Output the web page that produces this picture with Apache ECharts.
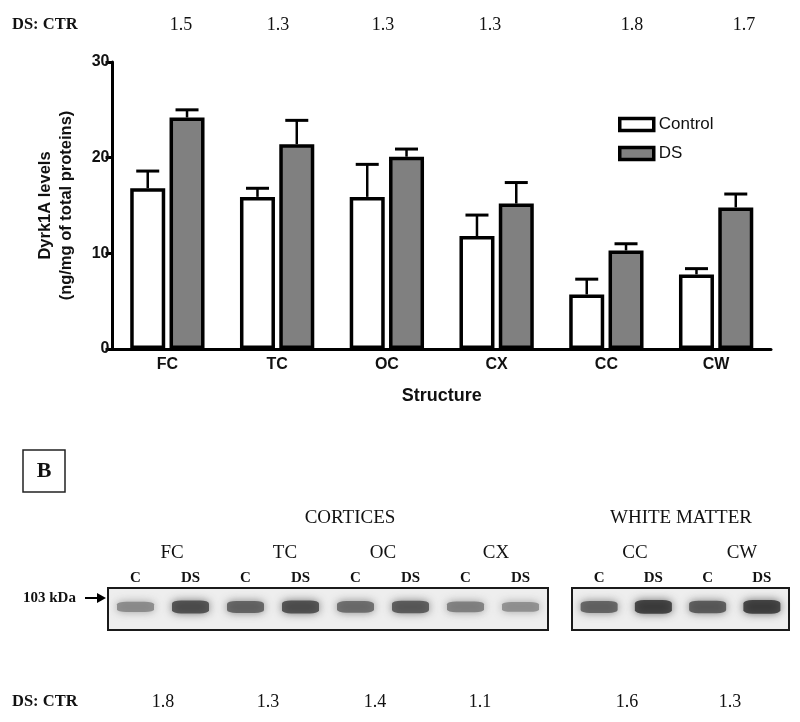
<!DOCTYPE html>
<html><head><meta charset="utf-8">
<script src="https://cdn.jsdelivr.net/npm/echarts@6/dist/echarts.min.js"></script>
<style>html,body{margin:0;padding:0;background:#fff}#c{width:800px;height:722px}</style>
</head><body><div id="c"></div>
<script>
// ---- data ----
const structures = ['FC', 'TC', 'OC', 'CX', 'CC', 'CW'];
const controlMean = [16.8, 15.9, 15.9, 11.8, 5.7, 7.8];
const controlSem  = [1.8, 0.9, 3.4, 2.2, 1.6, 0.6];
const dsMean      = [24.2, 21.4, 20.1, 15.2, 10.3, 14.8];
const dsSem       = [0.8, 2.5, 0.8, 2.2, 0.7, 1.4];
const yTicks = [0, 10, 20, 30];
const elisaRatio = ['1.5', '1.3', '1.3', '1.3', '1.8', '1.7'];
const blotRatio  = ['1.8', '1.3', '1.4', '1.1', '1.6', '1.3'];
const corticesLanes   = ['C', 'DS', 'C', 'DS', 'C', 'DS', 'C', 'DS'];
const corticesDensity = [0.45, 0.85, 0.72, 0.85, 0.66, 0.78, 0.52, 0.42];
const whiteLanes   = ['C', 'DS', 'C', 'DS'];
const whiteDensity = [0.72, 0.95, 0.78, 0.95];
const groupNames = ['CORTICES', 'WHITE MATTER'];

// ---- layout / style ----
const SANS = 'Liberation Sans, Arial, sans-serif';
const SERIF = 'Liberation Serif, Times New Roman, serif';
const BAR_W = 35, BAR_GAP_PX = 4.3;
const OFF = (BAR_W + BAR_GAP_PX) / 2;

function errSeries(means, sems, offset) {
  return {
    type: 'custom', xAxisIndex: 0, yAxisIndex: 0, z: 1, silent: true,
    data: means.map((m, i) => [i, m, m + sems[i]]),
    renderItem(params, api) {
      const b = api.coord([api.value(0), api.value(1)]);
      const t = api.coord([api.value(0), api.value(2)]);
      const cx = b[0] + offset;
      return { type: 'group', children: [
        { type: 'line', shape: { x1: cx, y1: b[1], x2: cx, y2: t[1] }, style: { stroke: '#000', lineWidth: 2.5 } },
        { type: 'line', shape: { x1: cx - 11.5, y1: t[1], x2: cx + 11.5, y2: t[1] }, style: { stroke: '#000', lineWidth: 3 } }
      ]};
    }
  };
}

function bandGray(d) { const g = Math.round(200 - d * 165); return 'rgb(' + g + ',' + g + ',' + g + ')'; }
function bandData(dens) {
  return dens.map((d, i) => ({
    value: [i, 0.55, d],
    itemStyle: { color: bandGray(d), shadowBlur: 8, shadowColor: bandGray(d * 0.8) }
  }));
}
function bandSeries(dens, idx) {
  return {
    type: 'scatter', xAxisIndex: idx, yAxisIndex: idx, silent: true,
    symbol: 'roundRect',
    symbolSize: v => [37, 7 + v[2] * 7],
    data: bandData(dens)
  };
}

function txt(t, x, y, size, weight, family, align) {
  return { type: 'text', x: x, y: y, silent: true,
    style: { text: t, fontSize: size, fontWeight: weight || 'normal', fontFamily: family || SERIF,
      fill: '#111', align: align || 'center', verticalAlign: 'middle' } };
}

const topRatioX = [181, 278, 383, 490, 632, 744];
const botRatioX = [163, 268, 375, 480, 627, 730];
const structLabelX = [172, 285, 383, 496, 635, 742];

const graphic = [
  txt('DS: CTR', 12, 25, 16.5, 'bold', SERIF, 'left'),
  txt('DS: CTR', 12, 702, 16.5, 'bold', SERIF, 'left'),
  ...elisaRatio.map((r, i) => txt(r, topRatioX[i], 25, 18)),
  ...blotRatio.map((r, i) => txt(r, botRatioX[i], 702, 18)),
  { type: 'rect', shape: { x: 23, y: 450, width: 42, height: 42 }, style: { fill: '#fff', stroke: '#222', lineWidth: 1.5 } },
  txt('B', 44, 471, 22, 'bold'),
  txt(groupNames[0], 350, 518, 19),
  txt(groupNames[1], 681, 518, 19),
  ...structures.map((s, i) => txt(s, structLabelX[i], 553, 19)),
  txt('103 kDa', 23, 598, 15, 'bold', SERIF, 'left'),
  { type: 'line', shape: { x1: 85, y1: 598, x2: 99, y2: 598 }, style: { stroke: '#000', lineWidth: 2 } },
  { type: 'polygon', shape: { points: [[97, 593], [106, 598], [97, 603]] }, style: { fill: '#000' } }
];

const chart = echarts.init(document.getElementById('c'), null, { renderer: 'canvas' });
chart.setOption({
  animation: false,
  backgroundColor: '#fff',
  textStyle: { fontFamily: SANS },
  legend: {
    data: ['Control', 'DS'], orient: 'vertical', left: 618, top: 116, padding: 0,
    itemWidth: 34, itemHeight: 12, itemGap: 12, icon: 'rect',
    itemStyle: { borderWidth: 3.5, borderColor: '#000' },
    textStyle: { fontFamily: SANS, fontSize: 17, color: '#111', padding: [0, 0, 0, 0] },
    selectedMode: false
  },
  grid: [
    { left: 112.5, top: 62, width: 658.5, height: 287 },
    { left: 108, top: 588, width: 440, height: 42, show: true, borderColor: '#1a1a1a', borderWidth: 2, backgroundColor: '#eeeeee' },
    { left: 572, top: 588, width: 217, height: 42, show: true, borderColor: '#1a1a1a', borderWidth: 2, backgroundColor: '#eeeeee' }
  ],
  xAxis: [
    { type: 'category', gridIndex: 0, data: structures, boundaryGap: true,
      axisLine: { lineStyle: { color: '#000', width: 3 } },
      axisTick: { alignWithLabel: true, length: 7, lineStyle: { color: '#000', width: 3 } },
      axisLabel: { fontFamily: SANS, fontWeight: 'bold', fontSize: 16, color: '#111', margin: 8 },
      name: 'Structure', nameLocation: 'middle', nameGap: 38,
      nameTextStyle: { fontFamily: SANS, fontWeight: 'bold', fontSize: 18, color: '#111' } },
    { type: 'category', gridIndex: 1, data: corticesLanes, position: 'top',
      axisLine: { show: false }, axisTick: { show: false },
      axisLabel: { fontFamily: SERIF, fontWeight: 'bold', fontSize: 15, color: '#111', margin: 2 } },
    { type: 'category', gridIndex: 2, data: whiteLanes, position: 'top',
      axisLine: { show: false }, axisTick: { show: false },
      axisLabel: { fontFamily: SERIF, fontWeight: 'bold', fontSize: 15, color: '#111', margin: 2 } }
  ],
  yAxis: [
    { type: 'value', gridIndex: 0, min: yTicks[0], max: yTicks[yTicks.length - 1], interval: yTicks[1] - yTicks[0],
      splitLine: { show: false },
      axisLine: { show: true, lineStyle: { color: '#000', width: 3 } },
      axisTick: { show: true, length: 7, lineStyle: { color: '#000', width: 3 } },
      axisLabel: { fontFamily: SANS, fontWeight: 'bold', fontSize: 16, color: '#111', margin: 3 },
      name: 'Dyrk1A levels\n(ng/mg of total proteins)', nameLocation: 'middle', nameRotate: 90, nameGap: 36,
      nameTextStyle: { fontFamily: SANS, fontWeight: 'bold', fontSize: 16.5, color: '#111', lineHeight: 21 } },
    { type: 'value', gridIndex: 1, min: 0, max: 1, show: false },
    { type: 'value', gridIndex: 2, min: 0, max: 1, show: false }
  ],
  series: [
    { type: 'bar', name: 'Control', xAxisIndex: 0, yAxisIndex: 0, data: controlMean, barWidth: BAR_W,
      barGap: (BAR_GAP_PX / BAR_W * 100).toFixed(1) + '%', z: 2, silent: true,
      itemStyle: { color: '#fff', borderColor: '#000', borderWidth: 3.5 } },
    { type: 'bar', name: 'DS', xAxisIndex: 0, yAxisIndex: 0, data: dsMean, barWidth: BAR_W, z: 2, silent: true,
      itemStyle: { color: '#808080', borderColor: '#000', borderWidth: 3.5 } },
    errSeries(controlMean, controlSem, -OFF),
    errSeries(dsMean, dsSem, OFF),
    bandSeries(corticesDensity, 1),
    bandSeries(whiteDensity, 2)
  ],
  graphic: graphic
});
</script></body></html>
